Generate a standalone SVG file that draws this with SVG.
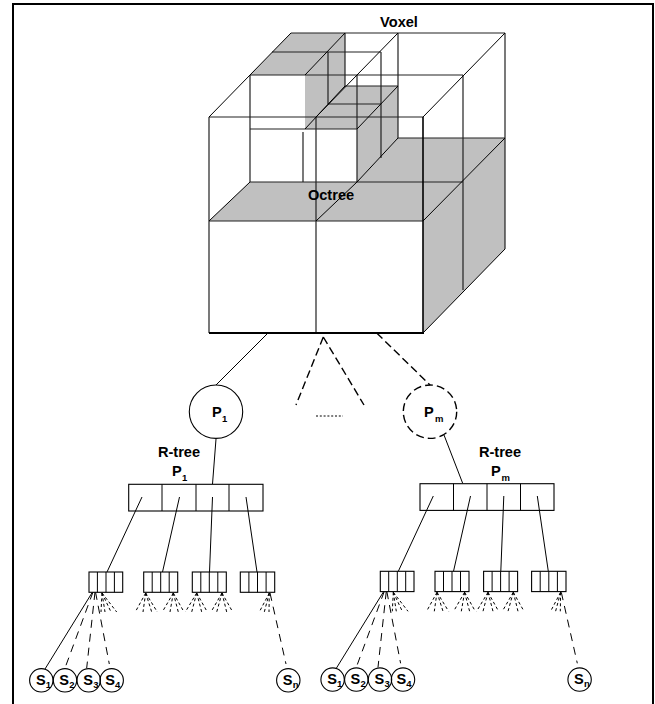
<svg xmlns="http://www.w3.org/2000/svg" width="655" height="704" viewBox="0 0 655 704">
<style>
text{font-family:"Liberation Sans",Arial,sans-serif;font-weight:bold;font-size:14.6px;fill:#000}
.sub{font-size:9.5px}
.m{text-anchor:middle}
.ln{stroke:#000;stroke-width:1;fill:none}
.ln2{stroke:#222;stroke-width:1.2;fill:none}
.g{fill:#c0c0c0;stroke:none}
.b{fill:#fff;stroke:#000;stroke-width:1.1}
.c{fill:none;stroke:#000;stroke-width:1.1}
.d1{stroke:#000;stroke-width:1;stroke-dasharray:3 2.500;fill:none}
.d2{stroke:#000;stroke-width:1;stroke-dasharray:8 6;fill:none}
.d3{stroke:#000;stroke-width:1.4;stroke-dasharray:8 4;fill:none}
</style>
<rect width="655" height="704" fill="#fff"/>
<path id="frame" d="M13 704V4H653V704" fill="none" stroke="#000" stroke-width="2"/>
<g id="cube">
<path class="g" d="M209 221L250 182H357L398 138H505L423 221Z"/>
<path class="g" d="M423 221L505 138V249L423 333Z"/>
<path class="g" d="M291 33H345L305 75H250Z"/>
<path class="g" d="M305 75L345 33V86H398L357 129H305Z"/>
<path class="g" d="M357 129L398 86V138L357 182Z"/>
<path class="ln2" d="M209 117H423M209 117V333M316 117V333M209 221H423M250 75H463M291 33H505M272 52H381M250 129H357M328 104H381M250 182H463M345 86H398M398 138H505"/>
<path class="ln2" d="M250 75V182M303 132V182M357 75V182M328 52V104M345 33V86M381 52V158M398 33V138M463 75V290M505 33V249"/>
<path class="ln" d="M209 117L291 33M305 75L345 33M316 117L398 33M423 117L505 33M209 221L250 182M316 221L357 182M423 221L505 138M357 129L398 86M305 129L345 86M357 182L398 138M423 333L505 249"/>
<path d="M423 117V333" stroke="#000" stroke-width="1.6" fill="none"/>
<path d="M209 333H424" stroke="#000" stroke-width="2" fill="none"/>
<text class="m" x="399" y="27">Voxel</text>
<text class="m" x="331" y="200">Octree</text>
</g>
<g id="connectors">
<path class="ln" d="M268 333L216 385M216 439L212.500 484M142 497L107 572M179.500 497L162.500 572M212.500 497L209.500 572M246 497L257 572"/>
<path class="ln" d="M444 435L462.700 483.300M433.300 496L398.300 571.300M470.500 496L453.500 571.300M503.800 496L500.800 571.300M537.300 496L548.300 571.300"/>
<path class="d3" d="M376.700 333L430 385M323.300 337L296 405M323.300 337L364 405"/>
<path d="M316 416H343" stroke="#000" stroke-width="1" stroke-dasharray="2 1.800" fill="none"/>
<path class="ln" d="M92.500 592L45 669M383.800 591.300L336.300 668.300"/>
<path class="d2" d="M93 592L65 668M95 592L86.700 668M95.500 592L109.300 664M270 593L286 664"/>
<path class="d2" d="M384.300 591.300L356.300 667.300M386.300 591.300L378 667.300M386.800 591.300L400.600 663.300M561.300 592.300L577.300 663.300"/>
<path class="d1" d="M102 593L101 612M102 593L105 612M102 593L111 612M102 593L116.700 612M145.700 593L135.300 612M145.700 593L143 612M145.700 593L151.700 612M145.700 593L157.300 612M173.300 593L162.300 612M173.300 593L170 612M173.300 593L178.300 612M173.300 593L184 612M196.700 593L185.300 612M196.700 593L191.700 612M196.700 593L201.700 612M196.700 593L207.300 612M222 593L211 612M222 593L216.700 612M222 593L226.700 612M222 593L232.700 612M269.300 593L259.300 612M269.300 593L264.300 612M269.300 593L269 612"/>
<path class="d1" d="M393.300 592.300L392.300 611.300M393.300 592.300L396.300 611.300M393.300 592.300L402.300 611.300M393.300 592.300L408 611.300M437 592.300L426.600 611.300M437 592.300L434.300 611.300M437 592.300L443 611.300M437 592.300L448.600 611.300M464.600 592.300L453.600 611.300M464.600 592.300L461.300 611.300M464.600 592.300L469.600 611.300M464.600 592.300L475.300 611.300M488 592.300L476.600 611.300M488 592.300L483 611.300M488 592.300L493 611.300M488 592.300L498.600 611.300M513.300 592.300L502.300 611.300M513.300 592.300L508 611.300M513.300 592.300L518 611.300M513.300 592.300L524 611.300M560.600 592.300L550.600 611.300M560.600 592.300L555.600 611.300M560.600 592.300L560.300 611.300"/>
</g>
<g id="p1"><circle class="c" cx="216" cy="411.700" r="26.700"/><text x="212" y="416.700">P</text><text class="sub" x="222" y="421.700">1</text></g>
<g id="pm"><circle cx="430" cy="411.700" r="26.700" class="d3" stroke-dasharray="7 4"/><text x="424" y="416.700">P</text><text class="sub" x="435" y="421.700">m</text></g>
<g id="rtree-label-1"><text class="m" x="179" y="457">R-tree</text><text x="172" y="476">P</text><text class="sub" x="182" y="481">1</text></g>
<g id="rtree-label-m"><text class="m" x="500" y="457">R-tree</text><text x="491" y="476">P</text><text class="sub" x="501.500" y="481">m</text></g>
<g id="rtree-1"><rect class="c" x="128.700" y="484.300" width="134.300" height="26.700"/><path class="ln" d="M162 484.300V511M196 484.300V511M229 484.300V511"/></g>
<g id="rtree-m"><rect class="c" x="420" y="483.700" width="134" height="26.700"/><path class="ln" d="M453.500 483.700V510.400M487 483.700V510.400M520.500 483.700V510.400"/></g>
<g id="leaf-1"><rect class="b" x="89" y="572" width="33.700" height="20.300"/><path class="ln" d="M97.400 572V592.300M106 572V592.300M114.400 572V592.300"/></g>
<g id="leaf-2"><rect class="b" x="143.700" y="572" width="34" height="20.300"/><path class="ln" d="M152.200 572V592.300M160.700 572V592.300M169.200 572V592.300"/></g>
<g id="leaf-3"><rect class="b" x="192.300" y="572" width="34" height="20.300"/><path class="ln" d="M200.800 572V592.300M209.300 572V592.300M217.800 572V592.300"/></g>
<g id="leaf-4"><rect class="b" x="240.300" y="572" width="34.400" height="20.300"/><path class="ln" d="M248.900 572V592.300M257.500 572V592.300M266.100 572V592.300"/></g>
<g id="leaf-5"><rect class="b" x="380.300" y="571.300" width="33.700" height="20.300"/><path class="ln" d="M388.700 571.300V591.600M397.300 571.300V591.600M405.700 571.300V591.600"/></g>
<g id="leaf-6"><rect class="b" x="435" y="571.300" width="34" height="20.300"/><path class="ln" d="M443.500 571.300V591.600M452 571.300V591.600M460.500 571.300V591.600"/></g>
<g id="leaf-7"><rect class="b" x="483.600" y="571.300" width="34" height="20.300"/><path class="ln" d="M492.100 571.300V591.600M500.600 571.300V591.600M509.100 571.300V591.600"/></g>
<g id="leaf-8"><rect class="b" x="531.600" y="571.300" width="34.400" height="20.300"/><path class="ln" d="M540.200 571.300V591.600M548.800 571.300V591.600M557.400 571.300V591.600"/></g>
<g id="s1-1"><circle class="c" cx="41.300" cy="680.300" r="11.700"/><text x="36" y="685">S</text><text class="sub" x="45.700" y="688">1</text></g>
<g id="s1-2"><circle class="c" cx="65" cy="680.300" r="11.700"/><text x="59.300" y="685">S</text><text class="sub" x="69.300" y="688">2</text></g>
<g id="s1-3"><circle class="c" cx="88.700" cy="680.300" r="11.700"/><text x="83.300" y="685">S</text><text class="sub" x="93.300" y="688">3</text></g>
<g id="s1-4"><circle class="c" cx="111.700" cy="680.300" r="11.700"/><text x="105.300" y="685">S</text><text class="sub" x="115" y="688">4</text></g>
<g id="s1-n"><circle class="c" cx="288.300" cy="680.300" r="11.700"/><text x="282.700" y="685">S</text><text class="sub" x="292.700" y="688">n</text></g>
<g id="s2-1"><circle class="c" cx="332.600" cy="679.600" r="11.700"/><text x="327.300" y="684.300">S</text><text class="sub" x="337" y="687.300">1</text></g>
<g id="s2-2"><circle class="c" cx="356.300" cy="679.600" r="11.700"/><text x="350.600" y="684.300">S</text><text class="sub" x="360.600" y="687.300">2</text></g>
<g id="s2-3"><circle class="c" cx="380" cy="679.600" r="11.700"/><text x="374.600" y="684.300">S</text><text class="sub" x="384.600" y="687.300">3</text></g>
<g id="s2-4"><circle class="c" cx="403" cy="679.600" r="11.700"/><text x="396.600" y="684.300">S</text><text class="sub" x="406.300" y="687.300">4</text></g>
<g id="s2-n"><circle class="c" cx="579.600" cy="679.600" r="11.700"/><text x="574" y="684.300">S</text><text class="sub" x="584" y="687.300">n</text></g>
</svg>
